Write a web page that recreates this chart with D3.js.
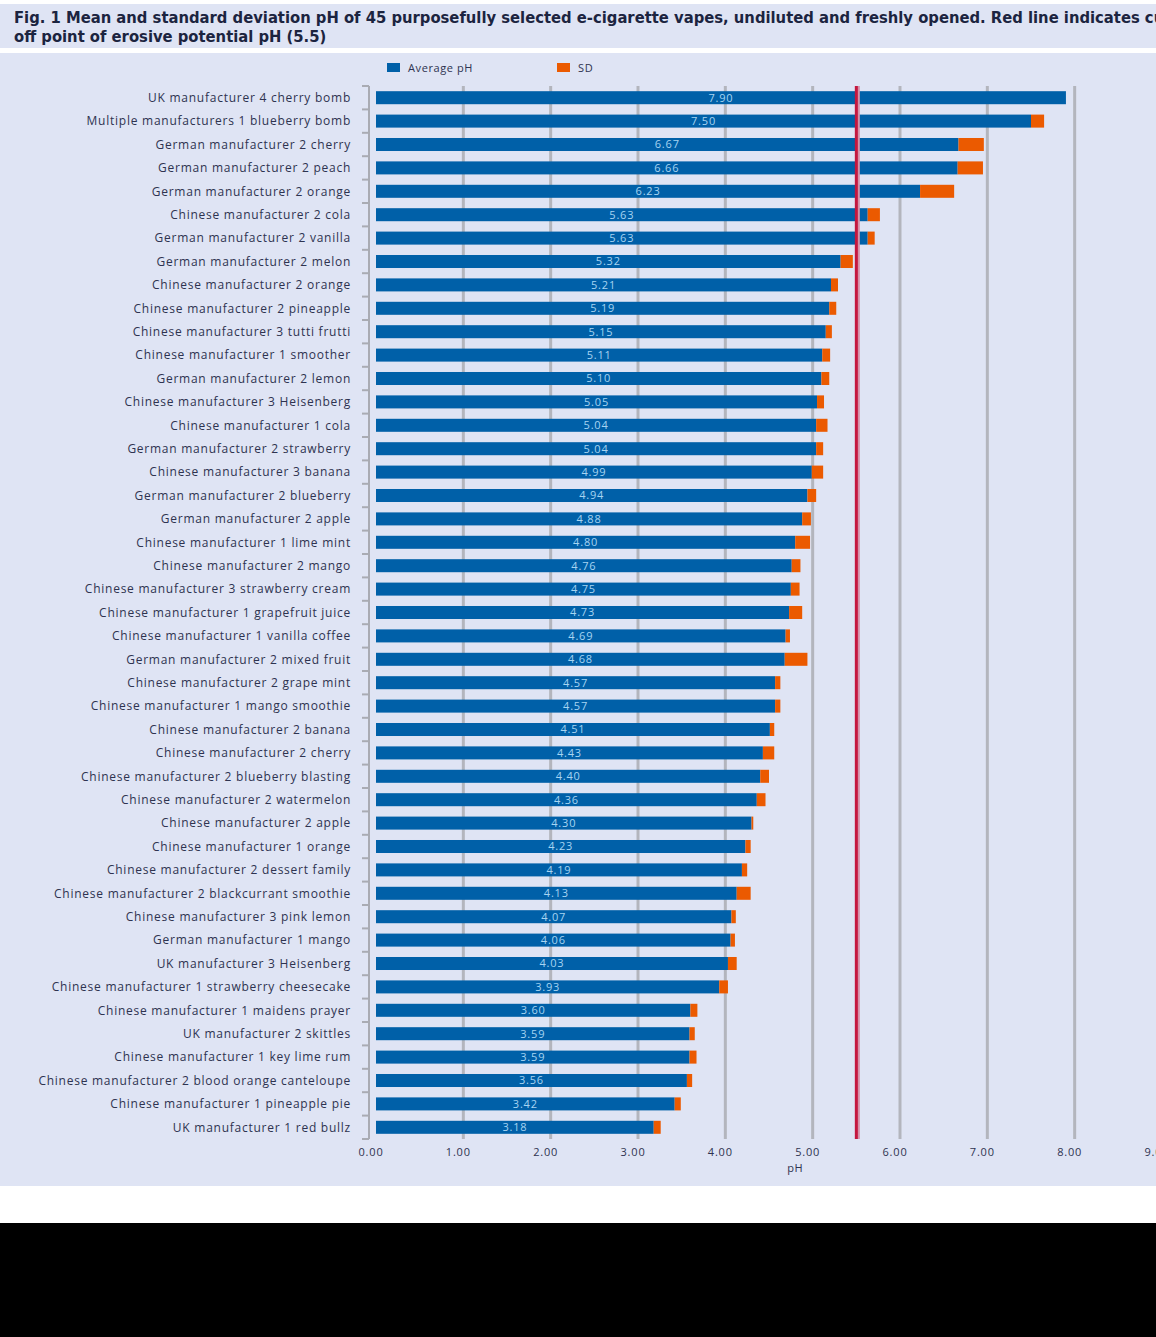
<!DOCTYPE html>
<html>
<head>
<meta charset="utf-8">
<script src="https://cdn.jsdelivr.net/npm/d3@7"></script>
<style>
  body { margin: 0; background: #000; }
  svg { display: block; }
</style>
</head>
<body>
<svg id="chart" width="1156" height="1337"></svg>
<script>
// e-liquid names, top to bottom
var names = [
  "UK manufacturer 4 cherry bomb",
  "Multiple manufacturers 1 blueberry bomb",
  "German manufacturer 2 cherry",
  "German manufacturer 2 peach",
  "German manufacturer 2 orange",
  "Chinese manufacturer 2 cola",
  "German manufacturer 2 vanilla",
  "German manufacturer 2 melon",
  "Chinese manufacturer 2 orange",
  "Chinese manufacturer 2 pineapple",
  "Chinese manufacturer 3 tutti frutti",
  "Chinese manufacturer 1 smoother",
  "German manufacturer 2 lemon",
  "Chinese manufacturer 3 Heisenberg",
  "Chinese manufacturer 1 cola",
  "German manufacturer 2 strawberry",
  "Chinese manufacturer 3 banana",
  "German manufacturer 2 blueberry",
  "German manufacturer 2 apple",
  "Chinese manufacturer 1 lime mint",
  "Chinese manufacturer 2 mango",
  "Chinese manufacturer 3 strawberry cream",
  "Chinese manufacturer 1 grapefruit juice",
  "Chinese manufacturer 1 vanilla coffee",
  "German manufacturer 2 mixed fruit",
  "Chinese manufacturer 2 grape mint",
  "Chinese manufacturer 1 mango smoothie",
  "Chinese manufacturer 2 banana",
  "Chinese manufacturer 2 cherry",
  "Chinese manufacturer 2 blueberry blasting",
  "Chinese manufacturer 2 watermelon",
  "Chinese manufacturer 2 apple",
  "Chinese manufacturer 1 orange",
  "Chinese manufacturer 2 dessert family",
  "Chinese manufacturer 2 blackcurrant smoothie",
  "Chinese manufacturer 3 pink lemon",
  "German manufacturer 1 mango",
  "UK manufacturer 3 Heisenberg",
  "Chinese manufacturer 1 strawberry cheesecake",
  "Chinese manufacturer 1 maidens prayer",
  "UK manufacturer 2 skittles",
  "Chinese manufacturer 1 key lime rum",
  "Chinese manufacturer 2 blood orange canteloupe",
  "Chinese manufacturer 1 pineapple pie",
  "UK manufacturer 1 red bullz"
];

var avgPH = [7.90, 7.50, 6.67, 6.66, 6.23, 5.63, 5.63, 5.32, 5.21, 5.19,
             5.15, 5.11, 5.10, 5.05, 5.04, 5.04, 4.99, 4.94, 4.88, 4.80,
             4.76, 4.75, 4.73, 4.69, 4.68, 4.57, 4.57, 4.51, 4.43, 4.40,
             4.36, 4.30, 4.23, 4.19, 4.13, 4.07, 4.06, 4.03, 3.93, 3.60,
             3.59, 3.59, 3.56, 3.42, 3.18];

// SD
var sdPH = [0.00, 0.15, 0.29, 0.29, 0.39, 0.14, 0.08, 0.14, 0.08, 0.08,
            0.07, 0.09, 0.09, 0.08, 0.13, 0.08, 0.13, 0.10, 0.10, 0.17,
            0.10, 0.10, 0.15, 0.05, 0.26, 0.06, 0.06, 0.05, 0.13, 0.10,
            0.10, 0.02, 0.06, 0.06, 0.16, 0.05, 0.05, 0.10, 0.10, 0.08,
            0.06, 0.08, 0.06, 0.07, 0.08];

var xTicks = [0, 1, 2, 3, 4, 5, 6, 7, 8, 9];
var gridVals = [1, 2, 3, 4, 5, 6, 7, 8];
var cutOff = 5.5;
var legendItems = ["Average pH", "SD"];

var titleLine1 = "Fig. 1  Mean and standard deviation pH of 45 purposefully selected e-cigarette vapes, undiluted and freshly opened. Red line indicates";
var titleLine2 = "off point of erosive potential pH (5.5)";

var data = names.map(function (n, i) {
    return { name: n, avg: avgPH[i], sd: sdPH[i] };
});

var svg = d3.select("svg"),
    width = +svg.attr("width"),
    height = +svg.attr("height");

var blue = "#0060a8",
    orange = "#eb5a00",
    panelBg = "#dfe4f4",
    textCol = "#2e3350",
    font = "'Open Sans', sans-serif";

// backgrounds
svg.append("rect").attr("x", 0).attr("y", 0).attr("width", width).attr("height", 1223).attr("fill", "#fff");
svg.append("rect").attr("x", 0).attr("y", 4).attr("width", width).attr("height", 44).attr("fill", panelBg);
svg.append("rect").attr("x", 0).attr("y", 53).attr("width", width).attr("height", 1133).attr("fill", panelBg);

// title, sized so line 1 reaches the right edge like the original
var title = svg.append("text")
    .attr("font-family", "'DejaVu Sans', sans-serif")
    .attr("font-stretch", "condensed")
    .attr("font-weight", "bold")
    .attr("font-size", 14)
    .attr("fill", "#1c2440");
var t1 = title.append("tspan").attr("x", 14).attr("y", 23).text(titleLine1);
title.append("tspan").attr("x", 14).attr("y", 42).text(titleLine2);
var w1 = t1.node().getComputedTextLength();
title.attr("font-size", 14 * 1126 / w1);
t1.text(titleLine1 + " cut-");

var x = d3.scaleLinear().domain([0, 9]).range([376, 1162]);
var y = d3.scaleBand().domain(names).range([86, 1139]).paddingInner(0.444).paddingOuter(0.222);

var yTop = 86, yBottom = 1139;

// grid lines
svg.append("g").selectAll("line")
    .data(gridVals)
    .enter().append("line")
    .attr("x1", function (d) { return x(d); })
    .attr("x2", function (d) { return x(d); })
    .attr("y1", yTop)
    .attr("y2", yBottom)
    .attr("stroke", "#b3b5bd")
    .attr("stroke-width", 3);

// left axis with ticks between categories
var axisX = x(0) - 7;
svg.append("line")
    .attr("x1", axisX).attr("x2", axisX)
    .attr("y1", yTop).attr("y2", yBottom)
    .attr("stroke", "#a9abb3").attr("stroke-width", 2);

svg.append("g").selectAll("line")
    .data(d3.range(names.length + 1))
    .enter().append("line")
    .attr("x1", axisX - 7).attr("x2", axisX)
    .attr("y1", function (i) { return yTop + i * y.step(); })
    .attr("y2", function (i) { return yTop + i * y.step(); })
    .attr("stroke", "#a9abb3").attr("stroke-width", 2);

// bars
var rows = svg.append("g").selectAll("g")
    .data(data)
    .enter().append("g");

rows.append("rect")
    .attr("x", x(0))
    .attr("y", function (d) { return y(d.name); })
    .attr("width", function (d) { return x(d.avg) - x(0); })
    .attr("height", y.bandwidth())
    .attr("fill", blue);

rows.append("rect")
    .attr("x", function (d) { return x(d.avg); })
    .attr("y", function (d) { return y(d.name); })
    .attr("width", function (d) { return x(d.avg + d.sd) - x(d.avg); })
    .attr("height", y.bandwidth())
    .attr("fill", orange);

rows.append("text")
    .attr("x", function (d) { return (x(0) + x(d.avg)) / 2; })
    .attr("y", function (d) { return y(d.name) + y.bandwidth() / 2; })
    .attr("dy", "0.36em")
    .attr("text-anchor", "middle")
    .attr("font-family", font)
    .attr("font-size", 11)
    .attr("letter-spacing", 0.8)
    .attr("fill", "#a6d4f2")
    .text(function (d) { return d.avg.toFixed(2); });

// category labels
rows.append("text")
    .attr("x", 351)
    .attr("y", function (d) { return y(d.name) + y.bandwidth() / 2; })
    .attr("dy", "0.36em")
    .attr("text-anchor", "end")
    .attr("font-family", font)
    .attr("font-size", 12)
    .attr("letter-spacing", 0.75)
    .attr("fill", textCol)
    .text(function (d) { return d.name; });

// cut-off line
svg.append("line")
    .attr("x1", x(cutOff) + 2).attr("x2", x(cutOff) + 2)
    .attr("y1", yTop).attr("y2", yBottom)
    .attr("stroke", "#d690aa").attr("stroke-width", 3);
svg.append("line")
    .attr("x1", x(cutOff)).attr("x2", x(cutOff))
    .attr("y1", yTop).attr("y2", yBottom)
    .attr("stroke", "#c4173f").attr("stroke-width", 3);

// x tick labels
svg.append("g").selectAll("text")
    .data(xTicks)
    .enter().append("text")
    .attr("x", function (d) { return x(d) - 5; })
    .attr("y", 1156)
    .attr("text-anchor", "middle")
    .attr("font-family", font)
    .attr("font-size", 11)
    .attr("letter-spacing", 0.8)
    .attr("fill", textCol)
    .text(function (d) { return d.toFixed(2); });

svg.append("text")
    .attr("x", x(4.8))
    .attr("y", 1172)
    .attr("text-anchor", "middle")
    .attr("font-family", font)
    .attr("font-size", 11)
    .attr("letter-spacing", 0.6)
    .attr("fill", textCol)
    .text("pH");

// legend
var legend = svg.append("g").selectAll("g")
    .data(legendItems)
    .enter().append("g")
    .attr("transform", function (d, i) { return "translate(" + (387 + i * 170) + ",63)"; });

legend.append("rect")
    .attr("width", 13).attr("height", 9)
    .attr("fill", function (d, i) { return i === 0 ? blue : orange; });

legend.append("text")
    .attr("x", 21).attr("y", 5)
    .attr("dy", "0.36em")
    .attr("font-family", font)
    .attr("font-size", 11)
    .attr("letter-spacing", 0.6)
    .attr("fill", textCol)
    .text(function (d) { return d; });
</script>
</body>
</html>
